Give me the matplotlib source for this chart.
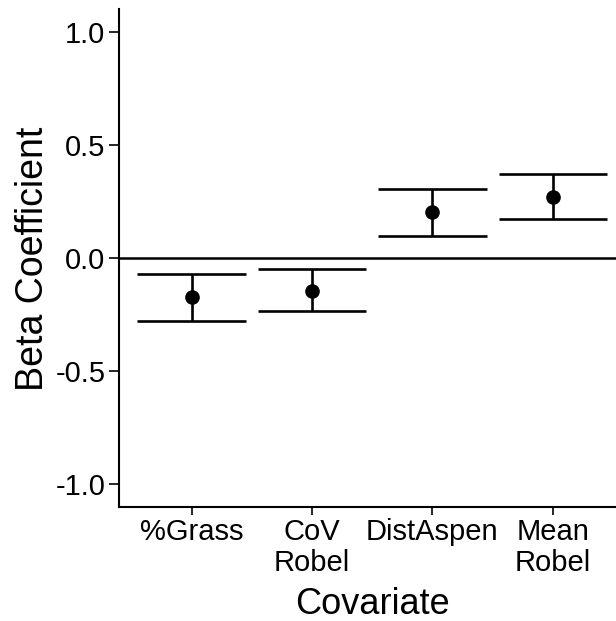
import numpy as np
import matplotlib
matplotlib.use('Agg')
import matplotlib.pyplot as plt

# Beta coefficients
covariates = ['%Grass', 'CoV\nRobel', 'DistAspen', 'Mean\nRobel']
beta = [-0.172, -0.144, 0.202, 0.271]
lower = [-0.277, -0.235, 0.099, 0.172]
upper = [-0.072, -0.048, 0.304, 0.372]
yticks = [-1.0, -0.5, 0.0, 0.5, 1.0]

plt.rcParams['font.family'] = ['Liberation Sans', 'DejaVu Sans']
plt.rcParams['axes.unicode_minus'] = False

fig = plt.figure(figsize=(6.16, 6.21), dpi=100)
ax = fig.add_axes([119.3 / 616, 114.1 / 621, 505.8 / 616, 497.5 / 621])

x = np.arange(len(covariates))

# zero reference line
ax.axhline(0, color='black', lw=1.8, zorder=1)

# error bars: stems and caps (cap width 0.9 in category units)
ax.vlines(x, lower, upper, color='black', lw=1.9, zorder=2)
ax.hlines(lower, x - 0.45, x + 0.45, color='black', lw=1.9, zorder=2)
ax.hlines(upper, x - 0.45, x + 0.45, color='black', lw=1.9, zorder=2)

# point estimates
ax.plot(x, beta, 'o', color='black', ms=9.5, zorder=3)

ax.set_xlim(-0.6, 3.6)
ax.set_ylim(-1.1, 1.1)
ax.set_xticks(x)
ax.set_xticklabels(covariates, fontsize=21, linespacing=1.12)
ax.set_yticks(yticks)
ax.set_yticklabels(['%.1f' % v for v in yticks], fontsize=21)

for side in ['top', 'right']:
    ax.spines[side].set_visible(False)
for side in ['left', 'bottom']:
    ax.spines[side].set_linewidth(1.5)

ax.tick_params(axis='x', length=5.5, width=1.2, pad=2.5, colors='black')
ax.tick_params(axis='y', length=7, width=1.2, pad=3, colors='black')

fig.text(33 / 616, 1 - 259 / 621, 'Beta Coefficient', rotation=90,
         ha='center', va='center', fontsize=27)
fig.text(372.2 / 616, 7 / 621, 'Covariate', ha='center', va='baseline',
         fontsize=26)

fig.savefig('out.png', dpi=100)
